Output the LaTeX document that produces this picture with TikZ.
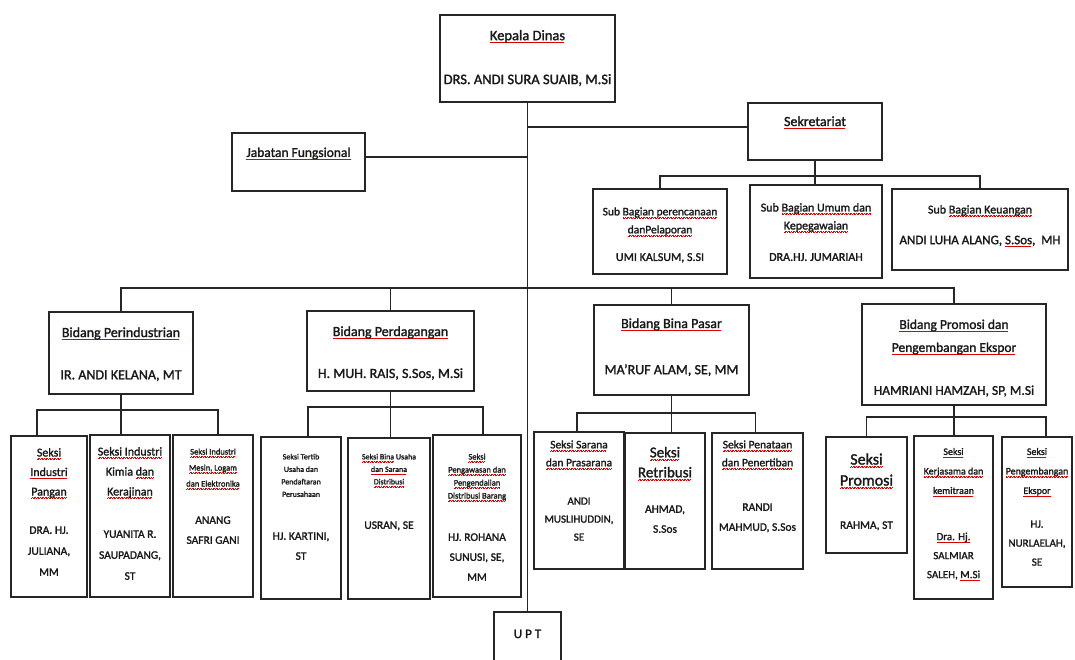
\documentclass[tikz,border=0pt]{standalone}
\usepackage{fontspec}
\setmainfont{Carlito}[FakeBold=1.6]
\newcommand{\sq}[1]{\setbox0\hbox{#1}\rlap{\textcolor{red!85!black}{\hbox to \wd0{\leaders\hbox{\rule[-2.8pt]{0.8pt}{0.6pt}\rule[-2.2pt]{0.8pt}{0.6pt}}\hfill}}}\box0\relax}
\tikzset{
  box/.style={draw=black!85, line width=1.4pt, fill=white, inner sep=0pt, outer sep=0pt, anchor=north west},
  conn/.style={draw=black!85, line width=1.4pt},
  txt/.style={anchor=north, align=center, inner sep=0pt, text=black!90}
}
\newcommand{\bx}[5]{\pgfmathsetmacro\bw{#4-#2}\pgfmathsetmacro\bh{#5-#3}%
  \node[box, minimum width=\bw pt, minimum height=\bh pt] (#1) at (#2,#3) {};}
\newcommand{\tx}[6]{\pgfmathsetmacro\tyy{#3-0.42*#4}%
  \node[txt, font=\fontsize{#4}{#5}\selectfont] (#1) at (#2,\tyy) {#6};}
\begin{document}
\begin{tikzpicture}[x=1pt,y=-1pt]
\useasboundingbox (0,0) rectangle (1075,659);
\fill[white] (0,0) rectangle (1075,659);
\clip (0,0) rectangle (1075,659);
% ---- boxes
\bx{kd}{440}{15}{615}{102}
\bx{jf}{232}{133}{365}{191}
\bx{sek}{748}{103}{882}{160}
\bx{sub1}{593}{189}{727}{274}
\bx{sub2}{750}{185}{882}{278}
\bx{sub3}{892}{189}{1068}{270}
\bx{b1}{49}{312}{193}{394}
\bx{b2}{307}{311}{474}{391}
\bx{b3}{594}{305}{749}{395}
\bx{b4}{862}{304}{1046}{405}
\bx{cA}{11}{436}{87}{597}
\bx{cB}{90}{435}{170}{597}
\bx{cC}{173}{435}{253}{597}
\bx{cD}{261}{437}{341}{599}
\bx{cE}{348}{438}{430}{599}
\bx{cF}{433}{435}{521}{597}
\bx{cG}{534}{432}{624}{569}
\bx{cH}{625}{433}{705}{569}
\bx{cI}{712}{433}{803}{569}
\bx{cJ}{826}{437}{907}{553}
\bx{cK}{914}{436}{993}{599}
\bx{cL}{1002}{437}{1072}{587}
\bx{upt}{494}{612}{561}{680}
% ---- connectors
\draw[conn] (kd.south) -- (upt.north);
\draw[conn] ([yshift=5pt]jf.east) -- ([yshift=5pt]jf.east -| kd.south);
\draw[conn] ([yshift=4.5pt]sek.west) -- ([yshift=4.5pt]sek.west -| kd.south);
\coordinate (sb) at (0,176);
\draw[conn] (sek.south) -- (sek.south |- sub2.north);
\draw[conn] (sub1.north) -- (sub1.north |- sb) -- (sub3.north |- sb) -- (sub3.north);
\coordinate (bb) at (0,288);
\draw[conn] (b1.north) -- (b1.north |- bb) -- (b4.north |- bb) -- (b4.north);
\draw[conn] (b2.north) -- (b2.north |- bb);
\draw[conn] (b3.north) -- (b3.north |- bb);
% Perindustrian children
\coordinate (p1) at (0,410);
\draw[conn] (b1.south) -- (b1.south |- cB.north);
\draw[conn] ([xshift=-12pt]cA.north) -- ([xshift=-12pt]cA.north |- p1) -- ([xshift=5pt]cC.north |- p1) -- ([xshift=5pt]cC.north);
% Perdagangan children
\coordinate (p2) at (0,407);
\draw[conn] (b2.south) -- (b2.south |- cE.north);
\draw[conn] ([xshift=7pt]cD.north) -- ([xshift=7pt]cD.north |- p2) -- ([xshift=6pt]cF.north |- p2) -- ([xshift=6pt]cF.north);
% Bina Pasar children
\coordinate (p3) at (0,413);
\draw[conn] (b3.south) -- (b3.south |- cH.north);
\draw[conn] ([xshift=-2pt]cG.north) -- ([xshift=-2pt]cG.north |- p3) -- ([xshift=-2pt]cI.north |- p3) -- ([xshift=-2pt]cI.north);
% Promosi children
\coordinate (p4) at (0,417);
\draw[conn] (b4.south) -- (b4.south |- cK.north);
\draw[conn] (cJ.north) -- (cJ.north |- p4) -- ([xshift=9pt]cL.north |- p4) -- ([xshift=9pt]cL.north);
% ---- texts
\tx{tkd1}{527.5}{36}{14.5}{16}{\sq{Kepala Dinas}}
\tx{tkd2}{527.5}{80}{14.5}{16}{DRS. ANDI SURA SUAIB, M.Si}
\tx{tjf}{298.5}{153}{13.5}{16}{\sq{Jabatan Fungsional}}
\tx{tsek}{815}{122}{14}{16}{\sq{Sekretariat}}
\tx{ts11}{660}{212}{11.5}{18}{Sub \sq{Bagian perencanaan}\\\sq{danPelaporan}}
\tx{ts12}{660}{258}{12}{14}{UMI KALSUM, S.SI}
\tx{ts21}{816}{208}{12}{18}{Sub \sq{Bagian Umum dan}\\\sq{Kepegawaian}}
\tx{ts22}{816}{258}{12}{14}{DRA.HJ. JUMARIAH}
\tx{ts31}{980}{210}{12}{14}{Sub \sq{Bagian Keuangan}}
\tx{ts32}{980}{241}{13}{14}{ANDI LUHA ALANG, \sq{S.Sos},~~MH}
\tx{tb11}{121}{333}{14}{16}{\sq{Bidang Perindustrian}}
\tx{tb12}{121}{376}{14}{16}{IR. ANDI KELANA, MT}
\tx{tb21}{390.5}{332}{14}{16}{\sq{Bidang Perdagangan}}
\tx{tb22}{390.5}{374}{14}{16}{H. MUH. RAIS, S.Sos, M.Si}
\tx{tb31}{671.5}{324}{14}{16}{\sq{Bidang Bina Pasar}}
\tx{tb32}{671.5}{370}{14}{16}{MA’RUF ALAM, SE, MM}
\tx{tb41}{954}{325}{13.5}{23}{\sq{Bidang Promosi dan}\\\sq{Pengembangan Ekspor}}
\tx{tb42}{954}{391}{13.5}{16}{HAMRIANI HAMZAH, SP, M.Si}
\tx{tA1}{49}{453}{12}{19.5}{\sq{Seksi}\\\sq{Industri}\\\sq{Pangan}}
\tx{tA2}{49}{531}{11.5}{21}{DRA. HJ.\\JULIANA,\\MM}
\tx{tB1}{130}{452}{12}{20}{\sq{Seksi Industri}\\Kimia \sq{dan}\\\sq{Kerajinan}}
\tx{tB2}{130}{535}{11.5}{21}{YUANITA R.\\SAUPADANG,\\ST}
\tx{tC1}{213}{452}{8.5}{16}{\sq{Seksi Industri}\\\sq{Mesin, Logam}\\\sq{dan Elektronika}}
\tx{tC2}{213}{521}{11.5}{20}{ANANG\\SAFRI GANI}
\tx{tD1}{301}{457}{8}{12.5}{Seksi Tertib\\Usaha dan\\Pendaftaran\\Perusahaan}
\tx{tD2}{301}{537}{11.5}{20}{HJ. KARTINI,\\ST}
\tx{tE1}{389}{457}{8}{12.5}{\sq{Seksi Bina} Usaha\\\sq{dan Sarana}\\\sq{Distribusi}}
\tx{tE2}{389}{526}{11.5}{20}{USRAN, SE}
\tx{tF1}{477}{457}{8.5}{13}{\sq{Seksi}\\\sq{Pengawasan dan}\\\sq{Pengendalian}\\\sq{Distribusi Barang}}
\tx{tF2}{477}{538}{11.5}{20}{HJ. ROHANA\\SUNUSI, SE,\\MM}
\tx{tG1}{579}{445}{11.5}{18}{\sq{Seksi Sarana}\\\sq{dan Prasarana}}
\tx{tG2}{579}{502}{11}{18}{ANDI\\MUSLIHUDDIN,\\SE}
\tx{tH1}{665}{453}{15}{20}{\sq{Seksi}\\\sq{Retribusi}}
\tx{tH2}{665}{510}{11.5}{20}{AHMAD,\\S.Sos}
\tx{tI1}{757.5}{445}{11.5}{18}{\sq{Seksi Penataan}\\\sq{dan Penertiban}}
\tx{tI2}{757.5}{508}{11.5}{20}{RANDI\\MAHMUD, S.Sos}
\tx{tJ1}{866.5}{460}{16}{21}{\sq{Seksi}\\\sq{Promosi}}
\tx{tJ2}{866.5}{526}{11.5}{14}{RAHMA, ST}
\tx{tK1}{953.5}{452}{10}{19.5}{\sq{Seksi}\\\sq{Kerjasama dan}\\\sq{kemitraan}}
\tx{tK2}{953.5}{537}{11}{19}{\sq{Dra. Hj.}\\SALMIAR\\SALEH, \sq{M.Si}}
\tx{tL1}{1037}{452}{10}{19.5}{\sq{Seksi}\\\sq{Pengembangan}\\\sq{Ekspor}}
\tx{tL2}{1037}{525}{11}{19}{HJ.\\NURLAELAH,\\SE}
\tx{tupt}{527.5}{635}{13}{14}{U\hspace{3pt}P\hspace{3pt}T}
\end{tikzpicture}
\end{document}
